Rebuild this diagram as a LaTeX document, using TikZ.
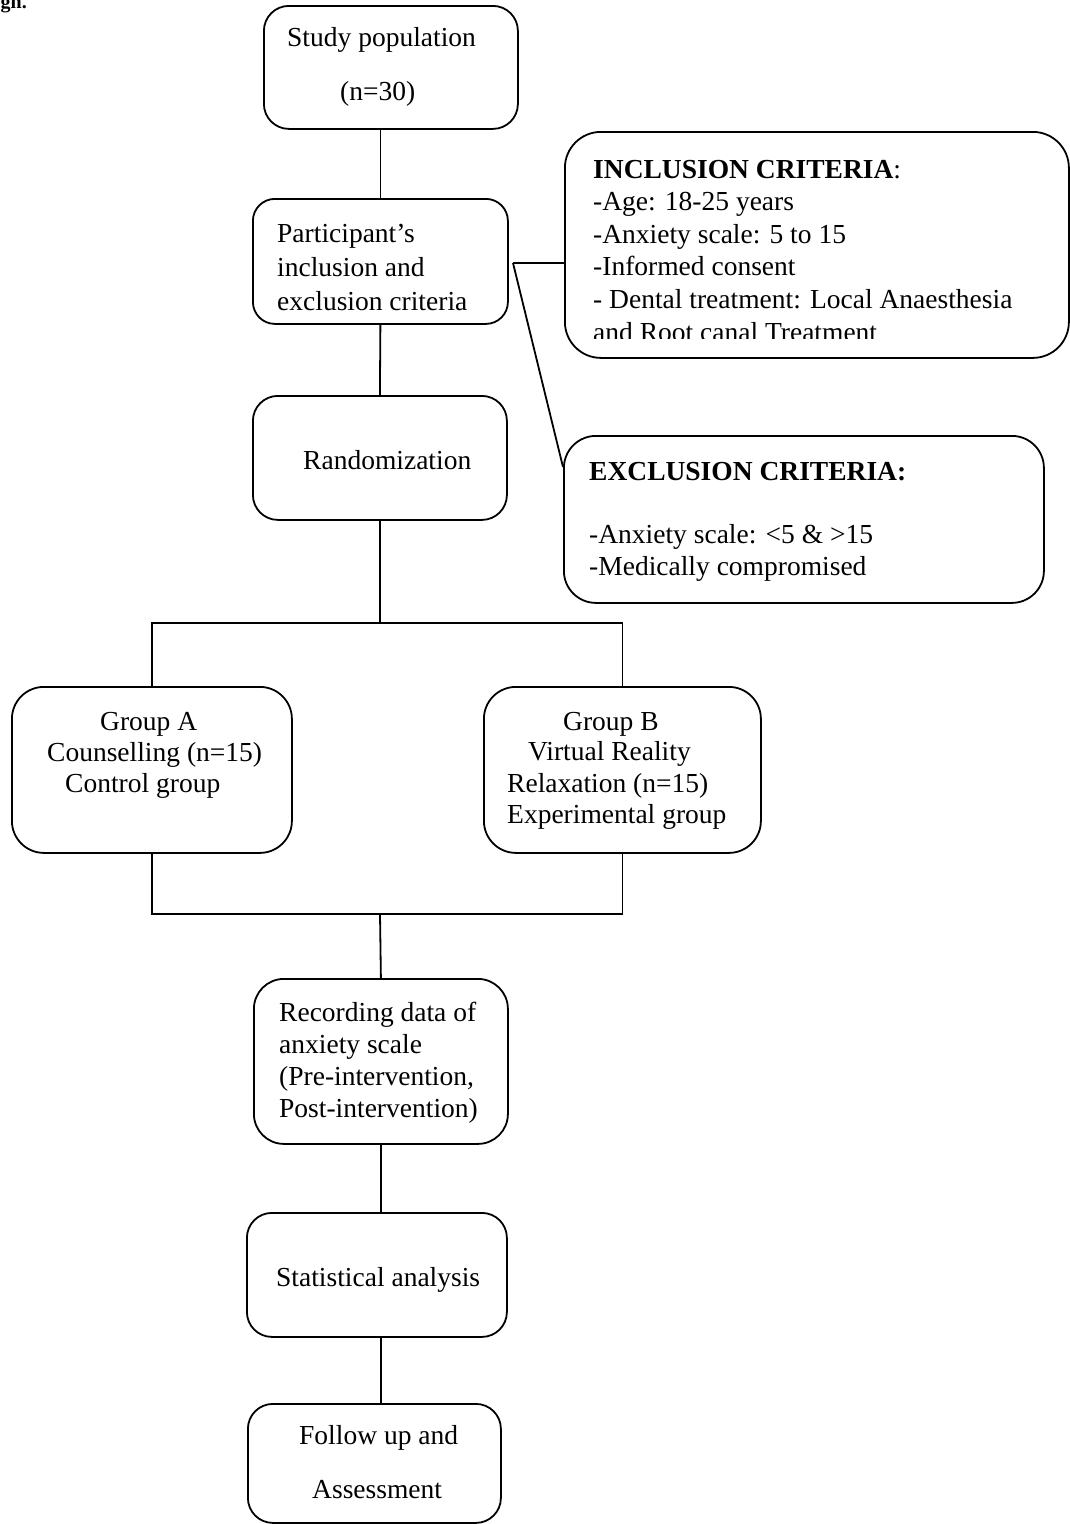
\documentclass[tikz,border=0pt]{standalone}
\usepackage{fontspec}
\setmainfont{Liberation Serif}
\begin{document}
\begin{tikzpicture}[x=1pt,y=-1pt,
  box/.style={draw,line width=1.8pt,rounded corners=25pt,inner sep=0pt,anchor=north west},
  bigbox/.style={box,rounded corners=32pt},
  txt/.style={inner sep=0pt,anchor=base west,font=\fontsize{27.5}{33}\selectfont},
  ln/.style={line width=1.8pt}]
\clip (0,0) rectangle (1070,1524);
\fill[white] (0,0) rectangle (1070,1524);

% fragment of the preceding heading
\node[inner sep=0pt,anchor=base east,font=\fontsize{20}{24}\selectfont\bfseries] (gn) at (27,8) {gn.};

% boxes
\node[box,minimum width=254pt,minimum height=123pt] (sp) at (263,5) {};
\node[box,rounded corners=22pt,minimum width=255pt,minimum height=125pt] (pa) at (252,198) {};
\node[box,minimum width=254pt,minimum height=124pt] (ra) at (252,395) {};
\node[bigbox,minimum width=280pt,minimum height=166pt] (ga) at (11,686) {};
\node[bigbox,minimum width=277pt,minimum height=166pt] (gb) at (483,686) {};
\node[box,rounded corners=30pt,minimum width=254pt,minimum height=165pt] (re) at (253,978) {};
\node[box,minimum width=260pt,minimum height=124pt] (st) at (246,1212) {};
\node[box,minimum width=253pt,minimum height=119pt] (fo) at (247,1403) {};
\node[bigbox,rounded corners=36pt,minimum width=504pt,minimum height=226pt] (inc) at (564,131) {};
\node[bigbox,minimum width=480pt,minimum height=167pt] (exc) at (563,435) {};

% texts
\node[txt] (sp1) at (287,46) {Study population};
\node[txt] (sp2) at (340,100) {(n=30)};
\node[txt] (pa1) at (277,242) {Participant’s};
\node[txt] (pa2) at (277,276) {inclusion and};
\node[txt] (pa3) at (277,310) {exclusion criteria};
\node[txt] (ra1) at (303,469) {Randomization};

\node[txt] (inc0) at (593,178) {\textbf{INCLUSION CRITERIA}:};
\node[txt] (inc1) at (593,210.5) {-Age: 18-25 years};
\node[txt] (inc2) at (593,243) {-Anxiety scale: 5 to 15};
\node[txt] (inc3) at (593,275.5) {-Informed consent};
\node[txt] (inc4) at (593,308) {- Dental treatment: Local Anaesthesia};
\begin{scope}
  \clip (564,131) rectangle (1068,338);
  \node[txt] (inc5) at (593,341) {and Root canal Treatment};
\end{scope}

\node[txt] (exc0) at (589,480) {\textbf{EXCLUSION CRITERIA:}};
\node[txt] (exc1) at (589,543) {-Anxiety scale: <5 \& >15};
\node[txt] (exc2) at (589,575) {-Medically compromised};

\node[txt] (ga1) at (100,730) {Group A};
\node[txt] (ga2) at (47,761) {Counselling (n=15)};
\node[txt] (ga3) at (65,792) {Control group};

\node[txt] (gb1) at (563,730) {Group B};
\node[txt] (gb2) at (528,760) {Virtual Reality};
\node[txt] (gb3) at (507,792) {Relaxation (n=15)};
\node[txt] (gb4) at (507,823) {Experimental group};

\node[txt] (re1) at (279,1021) {Recording data of};
\node[txt] (re2) at (279,1053) {anxiety scale};
\node[txt] (re3) at (279,1085) {(Pre-intervention,};
\node[txt] (re4) at (279,1117) {Post-intervention)};

\node[txt] (st1) at (276,1286) {Statistical analysis};

\node[txt] (fo1) at (299,1444) {Follow up and};
\node[txt] (fo2) at (312,1498) {Assessment};

% connectors
\coordinate (split) at (380,623);
\coordinate (merge) at (380,914);
\coordinate (br) at (513,263);
\coordinate (exin) at (563,467);

\draw[ln] (sp.south -| pa.north) -- (pa.north);
\draw[ln] (pa.south) -- (ra.north);
\draw[ln] (ra.south) -- (split);
\draw[ln] (ga.north) |- (split) -| (gb.north);
\draw[ln] (ga.south) |- (merge) -| (gb.south);
\draw[ln] (merge) -- (re.north);
\draw[ln] (re.south) -- (re.south |- st.north);
\draw[ln] (st.south -| re.south) -- (fo.north -| re.south);
\draw[ln] (br) -- (br -| inc.west);
\draw[ln] (br) -- (exin);
\end{tikzpicture}
\end{document}
